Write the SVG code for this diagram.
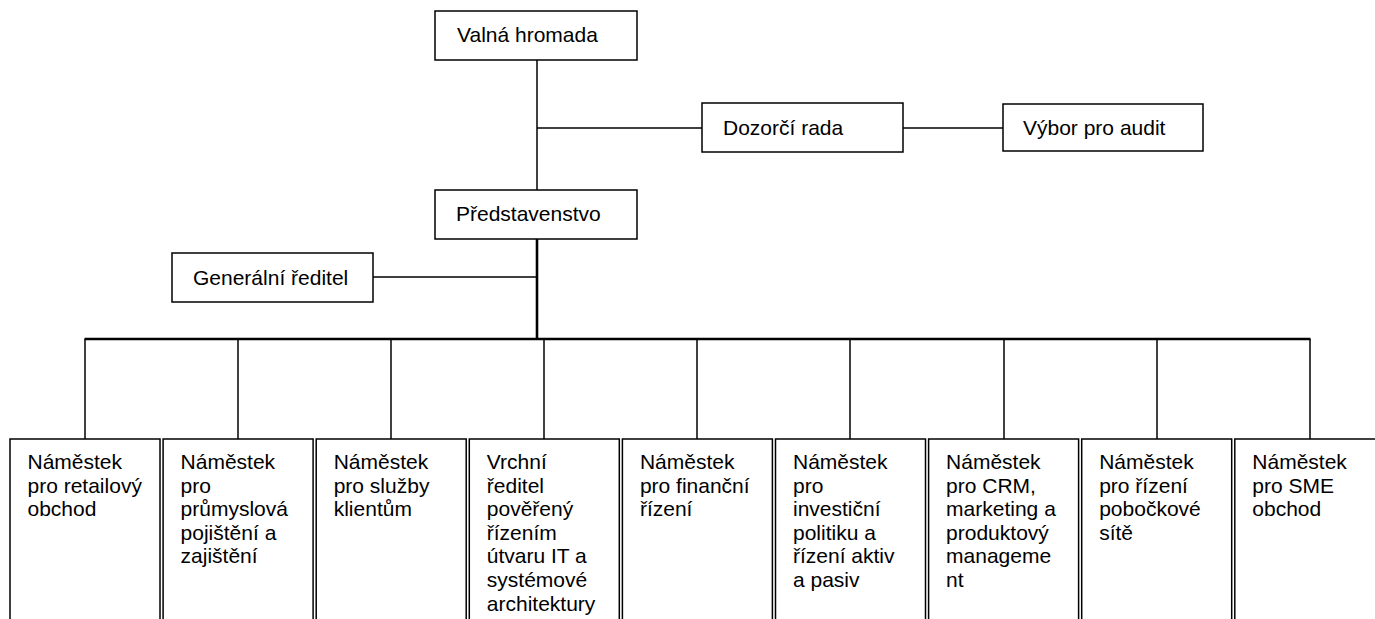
<svg xmlns="http://www.w3.org/2000/svg" width="1375" height="619" viewBox="0 0 1375 619">
<style>
.box{fill:#fff;stroke:#000;stroke-width:1.5}
.t{font-family:"Liberation Sans",Arial,sans-serif;font-size:21px;fill:#000}
.c{stroke:#000;stroke-width:1.5;fill:none}
.trunk{stroke:#000;stroke-width:2.6;fill:none}
</style>
<rect width="1375" height="619" fill="#fff"/>
<g id="connectors">
<line class="c" x1="537" y1="60" x2="537" y2="190"/>
<line class="c" x1="537" y1="128" x2="702" y2="128"/>
<line class="c" x1="903" y1="128" x2="1003" y2="128"/>
<line class="trunk" x1="537" y1="239" x2="537" y2="339"/>
<line class="c" x1="373" y1="277" x2="537" y2="277"/>
<line class="trunk" x1="84.5" y1="339" x2="1310.5" y2="339"/>
<line class="c" x1="85" y1="339" x2="85" y2="439"/>
<line class="c" x1="238" y1="339" x2="238" y2="439"/>
<line class="c" x1="391" y1="339" x2="391" y2="439"/>
<line class="c" x1="544" y1="339" x2="544" y2="439"/>
<line class="c" x1="697" y1="339" x2="697" y2="439"/>
<line class="c" x1="850" y1="339" x2="850" y2="439"/>
<line class="c" x1="1004" y1="339" x2="1004" y2="439"/>
<line class="c" x1="1157" y1="339" x2="1157" y2="439"/>
<line class="c" x1="1310" y1="339" x2="1310" y2="439"/>
</g>
<g id="valna"><rect class="box" x="435" y="11" width="202" height="49"/><text class="t" x="457" y="42">Valná hromada</text></g>
<g id="dozorci"><rect class="box" x="702" y="103" width="201" height="49"/><text class="t" x="723" y="135">Dozorčí rada</text></g>
<g id="vybor"><rect class="box" x="1003" y="104" width="200" height="47"/><text class="t" x="1023" y="135">Výbor pro audit</text></g>
<g id="predstavenstvo"><rect class="box" x="435" y="190" width="202" height="49"/><text class="t" x="456" y="221">Představenstvo</text></g>
<g id="generalni"><rect class="box" x="172" y="253" width="201" height="49"/><text class="t" x="193" y="285">Generální ředitel</text></g>
<g id="n1"><rect class="box" x="10" y="439" width="150" height="200"/><text class="t" x="27.5" y="469"><tspan x="27.5">Náměstek</tspan><tspan x="27.5" dy="23.6">pro retailový</tspan><tspan x="27.5" dy="23.6">obchod</tspan></text></g>
<g id="n2"><rect class="box" x="163.1" y="439" width="150" height="200"/><text class="t" x="180.6" y="469"><tspan x="180.6">Náměstek</tspan><tspan x="180.6" dy="23.6">pro</tspan><tspan x="180.6" dy="23.6">průmyslová</tspan><tspan x="180.6" dy="23.6">pojištění a</tspan><tspan x="180.6" dy="23.6">zajištění</tspan></text></g>
<g id="n3"><rect class="box" x="316.2" y="439" width="150" height="200"/><text class="t" x="333.7" y="469"><tspan x="333.7">Náměstek</tspan><tspan x="333.7" dy="23.6">pro služby</tspan><tspan x="333.7" dy="23.6">klientům</tspan></text></g>
<g id="n4"><rect class="box" x="469.3" y="439" width="150" height="200"/><text class="t" x="486.8" y="469"><tspan x="486.8">Vrchní</tspan><tspan x="486.8" dy="23.6">ředitel</tspan><tspan x="486.8" dy="23.6">pověřený</tspan><tspan x="486.8" dy="23.6">řízením</tspan><tspan x="486.8" dy="23.6">útvaru IT a</tspan><tspan x="486.8" dy="23.6">systémové</tspan><tspan x="486.8" dy="23.6">architektury</tspan></text></g>
<g id="n5"><rect class="box" x="622.4" y="439" width="150" height="200"/><text class="t" x="639.9" y="469"><tspan x="639.9">Náměstek</tspan><tspan x="639.9" dy="23.6">pro finanční</tspan><tspan x="639.9" dy="23.6">řízení</tspan></text></g>
<g id="n6"><rect class="box" x="775.5" y="439" width="150" height="200"/><text class="t" x="793" y="469"><tspan x="793">Náměstek</tspan><tspan x="793" dy="23.6">pro</tspan><tspan x="793" dy="23.6">investiční</tspan><tspan x="793" dy="23.6">politiku a</tspan><tspan x="793" dy="23.6">řízení aktiv</tspan><tspan x="793" dy="23.6">a pasiv</tspan></text></g>
<g id="n7"><rect class="box" x="928.6" y="439" width="150" height="200"/><text class="t" x="946.1" y="469"><tspan x="946.1">Náměstek</tspan><tspan x="946.1" dy="23.6">pro CRM,</tspan><tspan x="946.1" dy="23.6">marketing a</tspan><tspan x="946.1" dy="23.6">produktový</tspan><tspan x="946.1" dy="23.6">manageme</tspan><tspan x="946.1" dy="23.6">nt</tspan></text></g>
<g id="n8"><rect class="box" x="1081.7" y="439" width="150" height="200"/><text class="t" x="1099.2" y="469"><tspan x="1099.2">Náměstek</tspan><tspan x="1099.2" dy="23.6">pro řízení</tspan><tspan x="1099.2" dy="23.6">pobočkové</tspan><tspan x="1099.2" dy="23.6">sítě</tspan></text></g>
<g id="n9"><rect class="box" x="1234.8" y="439" width="150" height="200"/><text class="t" x="1252.3" y="469"><tspan x="1252.3">Náměstek</tspan><tspan x="1252.3" dy="23.6">pro SME</tspan><tspan x="1252.3" dy="23.6">obchod</tspan></text></g>
</svg>
